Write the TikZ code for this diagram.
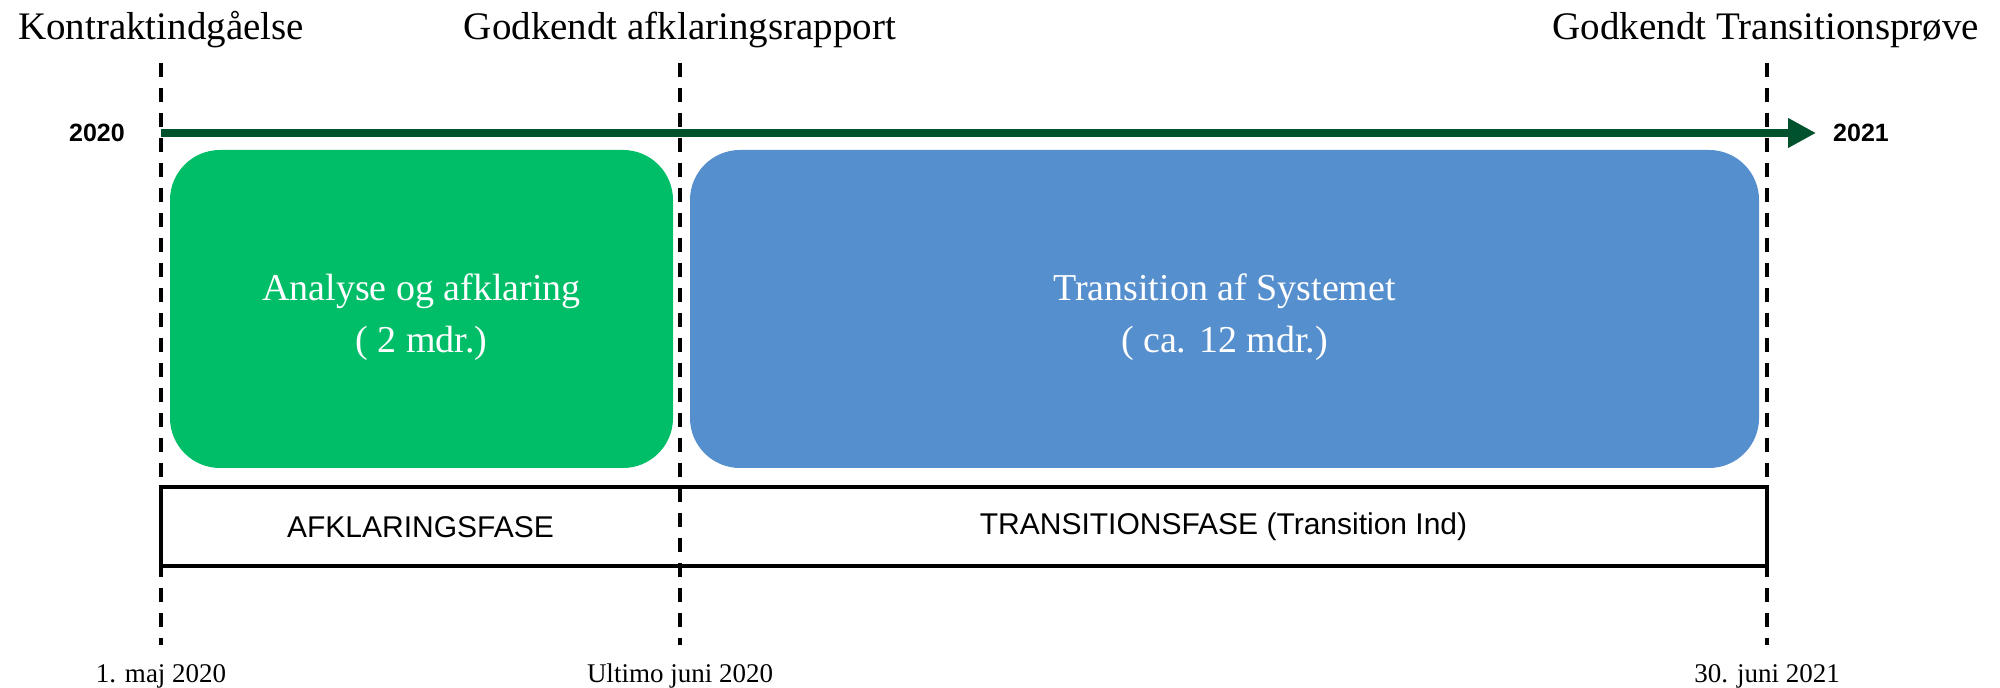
\documentclass[tikz,border=0pt]{standalone}
\usepackage{fontspec}
\setmainfont{Liberation Serif}
\newfontfamily\sansf{Liberation Sans}
\usetikzlibrary{arrows.meta}
\definecolor{boxgreen}{RGB}{0,190,104}
\definecolor{boxblue}{RGB}{85,143,206}
\definecolor{arrowgreen}{RGB}{0,82,45}
\tikzset{
 milestone/.style={font=\fontsize{19.5}{22}\selectfont, anchor=base, inner sep=0pt},
 datelabel/.style={font=\fontsize{13.5}{16}\selectfont, anchor=base, inner sep=0pt},
 yearlabel/.style={font=\sansf\bfseries\fontsize{12.5}{14}\selectfont, inner sep=0pt},
 phasebox/.style={rounded corners=25pt, inner sep=0pt, text=white, align=center, font=\fontsize{19}{26}\selectfont},
 guide/.style={line width=1.7pt, dash pattern=on 7pt off 5.5pt},
 barlabel/.style={font=\sansf\fontsize{15}{17}\selectfont, inner sep=0pt},
 barframe/.style={line width=1.7pt, draw=black},
 timeline/.style={line width=4pt, draw=arrowgreen, -{Triangle[length=14pt,width=14pt]}},
}
\begin{document}
\begin{tikzpicture}[x=0.5pt,y=-0.5pt]
\useasboundingbox (0,0) rectangle (2000,688);
% milestones
\node[milestone] (m1) at (161,40) {Kontraktindgåelse};
\node[milestone] (m2) at (680,40) {Godkendt afklaringsrapport};
\node[milestone] (m3) at (1766,40) {Godkendt Transitionsprøve};
% timeline
\coordinate (as) at (161,133);
\coordinate (ae) at (1816,133);
\draw[timeline] (as) -- (ae);
\node[yearlabel] (y1) at (97,133) {2020};
\node[yearlabel] (y2) at (1861,133) {2021};
% phase boxes
\node[phasebox, fill=boxgreen, minimum width=251.5pt, minimum height=159pt] (ana) at (421.5,309) {\rule{0pt}{22pt}Analyse og afklaring\\( 2 mdr.)};
\node[phasebox, fill=boxblue, minimum width=534.5pt, minimum height=159pt] (tra) at (1224.5,309) {\rule{0pt}{22pt}Transition af Systemet\\( ca. 12 mdr.)};
% phase bar
\coordinate (bar1) at (161,487);
\coordinate (bar2) at (1767,566);
\draw[barframe] (bar1) rectangle (bar2);
\node[barlabel] (afk) at (420.5,527) {AFKLARINGSFASE};
\node[barlabel] (trf) at (1223.5,527) {TRANSITIONSFASE (Transition Ind)};
% guides
\coordinate (t1) at (161,63);  \coordinate (b1) at (161,645);
\coordinate (t2) at (680,63);  \coordinate (b2) at (680,645);
\coordinate (t3) at (1767,63); \coordinate (b3) at (1767,645);
\draw[guide] (t1) -- (b1);
\draw[guide] (t2) -- (b2);
\draw[guide] (t3) -- (b3);
% dates
\node[datelabel] (d1) at (161,682) {1. maj 2020};
\node[datelabel] (d2) at (680,682) {Ultimo juni 2020};
\node[datelabel] (d3) at (1767,682) {30. juni 2021};
\end{tikzpicture}
\end{document}
